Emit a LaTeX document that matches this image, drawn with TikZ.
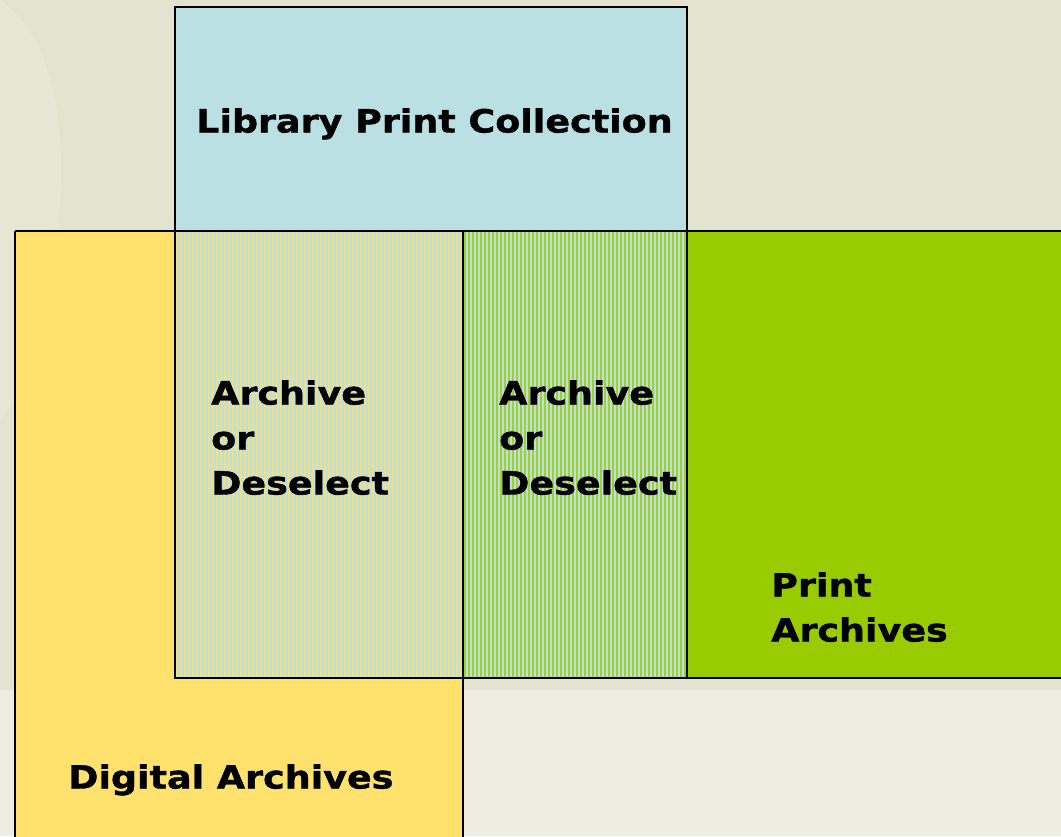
\documentclass[tikz,border=0pt]{standalone}
\usepackage{fontspec}
\setmainfont{DejaVu Sans}
\newfontfamily\lblfont{DejaVu Sans}[FakeStretch=1.14,FakeBold=1.2]
\definecolor{bgA}{HTML}{E3E4CF}
\definecolor{bgB}{HTML}{EDEDE2}
\definecolor{bgC}{HTML}{E6E7D4}
\definecolor{libblue}{HTML}{BBE0E3}
\definecolor{digyellow}{HTML}{FFE16E}
\definecolor{prgreen}{HTML}{99CC00}
\definecolor{styel}{HTML}{F2DF80}
\definecolor{stgrn}{HTML}{A2CF28}
\tikzset{
  area/.style={draw=black, line width=2.6pt},
  lbl/.style={font=\lblfont\bfseries\fontsize{32}{45}\selectfont, anchor=north west, align=left, inner sep=0pt}
}
\begin{document}
\begin{tikzpicture}[x=1pt,y=-1pt]
\useasboundingbox (0,0) rectangle (1061,836);
\fill[bgA] (0,0) rectangle (1061,836);
\fill[bgB] (0,690) rectangle (1061,836);
\fill[bgC] (0,0) .. controls (60,40) and (70,150) .. (55,250) .. controls (40,330) and (20,400) .. (0,420) -- cycle;
% main areas
\fill[libblue] (175,7) rectangle (687,231);
\fill[digyellow] (15,231) rectangle (463,840);
\fill[prgreen] (463,231) rectangle (1064,678);
% striped overlaps
\fill[libblue] (175,231) rectangle (687,678);
\foreach \i in {0,...,71} {
  \fill[styel] ({176+4*\i},231) rectangle ({178+4*\i},678);
}
\foreach \i in {0,...,55} {
  \fill[stgrn] ({464+4*\i},231) rectangle ({466.2+4*\i},678);
}
% outlines
\draw[area] (175,7) rectangle (687,231);
\draw[area] (15,231) -- (15,840) (463,840) -- (463,231) (15,231) -- (1064,231);
\draw[area] (175,231) rectangle (687,678);
\draw[area] (463,678) -- (1064,678);
% labels
\node[lbl] (lib) at (196,108) {Library Print Collection};
\node[lbl] (ad1) at (211,380) {Archive\\or\\Deselect};
\node[lbl] (ad2) at (499,380) {Archive\\or\\Deselect};
\node[lbl] (pa) at (771,572) {Print\\Archives};
\node[lbl] (da) at (68,764) {Digital Archives};
\end{tikzpicture}
\end{document}
